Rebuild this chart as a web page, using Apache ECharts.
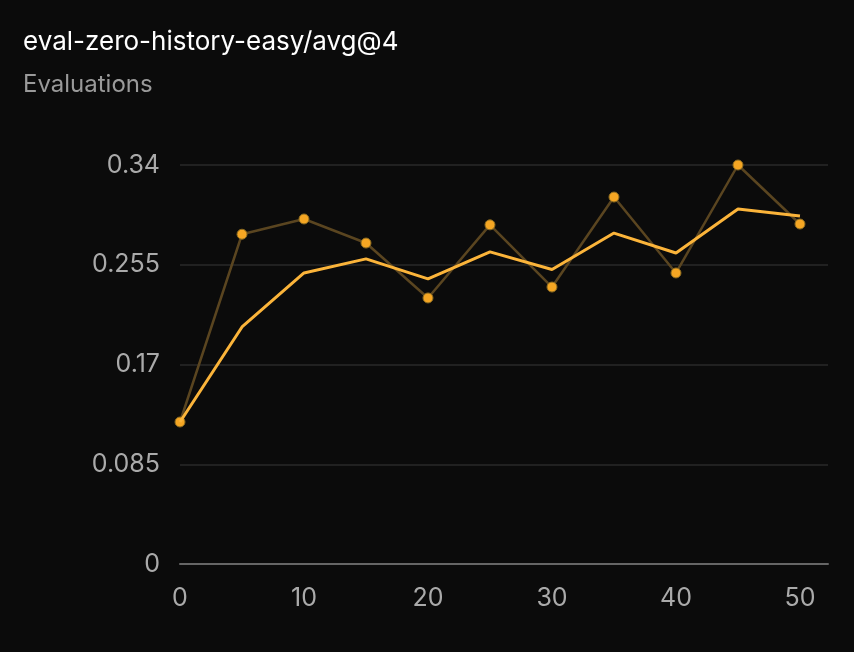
<!DOCTYPE html>
<html><head><meta charset="utf-8">
<script src="https://cdn.jsdelivr.net/npm/echarts@6/dist/echarts.min.js"></script>
<style>html,body{margin:0;padding:0;background:#0b0b0b;}#c{width:854px;height:652px;}</style>
</head><body><div id="c"></div>
<script>
const steps = [0,5,10,15,20,25,30,35,40,45,50];
const rawValues = [0.121,0.281,0.294,0.2735,0.2267,0.289,0.236,0.3127,0.248,0.340,0.2897];
const smoothValues = [0.121,0.202,0.248,0.260,0.243,0.266,0.251,0.282,0.265,0.3025,0.2965];
const yTicks = [0,0.085,0.17,0.255,0.34];
const chart = echarts.init(document.getElementById('c'));
chart.setOption({
  backgroundColor:'#0b0b0b',
  title:{text:'eval-zero-history-easy/avg@4',subtext:'Evaluations',left:18,top:24,itemGap:18,
    textStyle:{color:'#ffffff',fontSize:26,fontWeight:'normal',fontFamily:'Inter'},
    subtextStyle:{color:'#9a9a9a',fontSize:24,fontFamily:'Inter'}},
  grid:{left:180,right:26,top:165,bottom:88},
  xAxis:{type:'value',min:0,max:52.26,interval:10,
    axisLine:{lineStyle:{color:'#666',width:2}},axisTick:{show:false},splitLine:{show:false},
    axisLabel:{color:'#aaa',fontSize:25,margin:22,fontFamily:'Inter',showMaxLabel:false}},
  yAxis:{type:'value',min:0,max:0.34,interval:0.085,
    axisLine:{show:false},axisTick:{show:false},
    splitLine:{lineStyle:{color:'#2a2a2a',width:1.5}},
    axisLabel:{color:'#aaa',fontSize:25,margin:20,fontFamily:'Inter',formatter:v=>String(+v.toFixed(3))}},
  series:[
    {type:'line',data:steps.map((s,i)=>[s,rawValues[i]]),symbol:'circle',symbolSize:10,
     lineStyle:{color:'#5a4520',width:2.5},itemStyle:{color:'#f5a623',borderColor:'#8a6a20',borderWidth:1},z:2},
    {type:'line',data:steps.map((s,i)=>[s,smoothValues[i]]),symbol:'none',
     lineStyle:{color:'#fbb43a',width:3},z:3}
  ]
});
</script></body></html>
